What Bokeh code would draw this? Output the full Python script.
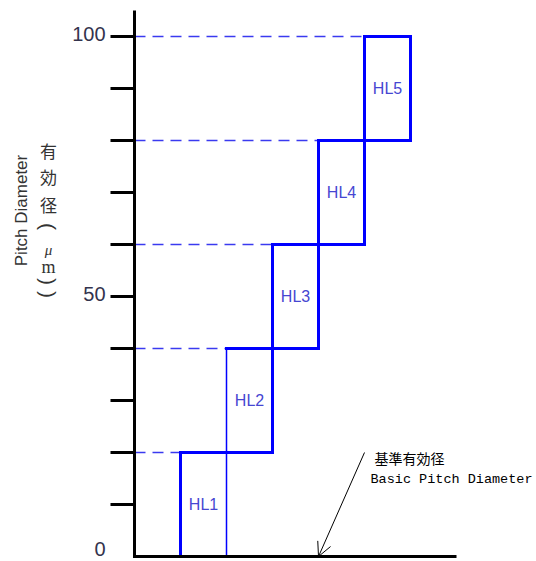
import math
from bokeh.plotting import figure
from bokeh.models import Range1d, Label, Arrow, OpenHead, ColumnDataSource
from bokeh.core.properties import value
from bokeh.embed import file_html
from bokeh.resources import INLINE

# ---- data ----
box_names = ["HL1", "HL2", "HL3", "HL4", "HL5"]
box_left = [1, 2, 3, 4, 5]
box_right = [2, 3, 4, 5, 6]
box_lower = [0, 20, 40, 60, 80]
box_upper = [20, 40, 60, 80, 100]
y_label_ticks = [0, 50, 100]
y_label_text = ["0", "50", "100"]
y_tick_marks = [10, 20, 30, 40, 50, 60, 70, 80, 90, 100]
axis_top = 105
x_axis_end = 7
arrow_from = (5, 20)
arrow_to = (4, 0)
thin_edge_x = 2

# ---- layout ----
W, H = 536, 561
X_RANGE = (-134 / 46.0, (W - 134) / 46.0)
Y_RANGE = (-(H - 556) / 5.2, 556 / 5.2)
XPX = (X_RANGE[1] - X_RANGE[0]) / W
YPX = (Y_RANGE[1] - Y_RANGE[0]) / H

def px_x(dx):
    return dx * XPX

def px_y(dy):
    return dy * YPX

BLUE = "#0000ff"

p = figure(width=W, height=H, x_range=Range1d(*X_RANGE), y_range=Range1d(*Y_RANGE),
           output_backend="svg", toolbar_location=None,
           x_axis_type=None, y_axis_type=None,
           min_border_left=0, min_border_right=0, min_border_top=0, min_border_bottom=0)
p.outline_line_color = None
p.background_fill_color = "white"
p.border_fill_color = "white"

# ---- dashed guide lines ----
p.segment(x0=[0] * len(box_upper), y0=box_upper, x1=box_left, y1=box_upper,
          line_color="#3a3af0", line_width=1.5, line_dash="11 7")

# ---- boxes as edges ----
x0s, y0s, x1s, y1s, ws = [], [], [], [], []
for l, r, lo, up in zip(box_left, box_right, box_lower, box_upper):
    for (a, b, c, d) in [(l, lo, r, lo), (l, up, r, up), (l, lo, l, up), (r, lo, r, up)]:
        x0s.append(a); y0s.append(b); x1s.append(c); y1s.append(d)
        ws.append(1.5 if (a == c == thin_edge_x) else 3)
p.segment(x0=x0s, y0=y0s, x1=x1s, y1=y1s, line_color=BLUE, line_width=ws, line_cap="square")

# ---- axes ----
p.line(x=[0, 0, x_axis_end], y=[axis_top, 0, 0], line_color="black", line_width=3,
       line_join="miter")
p.segment(x0=[px_x(-24)] * len(y_tick_marks), y0=y_tick_marks,
          x1=[0] * len(y_tick_marks), y1=y_tick_marks, line_color="black", line_width=3)
label_src = ColumnDataSource(dict(
    x=[px_x(-29)] * len(y_label_ticks), y=y_label_ticks, t=y_label_text,
    dy=[-8 if v == 0 else -3 for v in y_label_ticks]))
p.text(x="x", y="y", text="t", source=label_src, y_offset="dy",
       text_align="right", text_baseline="middle",
       text_font=value("Liberation Sans"), text_font_size="20px", text_color="#33334d")

# ---- box labels ----
src = ColumnDataSource(dict(x=[(l + r) / 2 for l, r in zip(box_left, box_right)],
                            y=[(lo + up) / 2 for lo, up in zip(box_lower, box_upper)],
                            t=box_names))
p.text(x="x", y="y", text="t", source=src, text_align="center", text_baseline="middle",
       text_font=value("Liberation Sans"), text_font_size="16px", text_color="#4646d2")

# ---- annotation arrow ----
p.add_layout(Arrow(x_start=arrow_from[0], y_start=arrow_from[1],
                   x_end=arrow_to[0], y_end=arrow_to[1],
                   line_width=1, line_color="black",
                   end=OpenHead(size=14, line_width=1, line_color="black")))

p.add_layout(Label(x=arrow_from[0] + px_x(10), y=arrow_from[1] - px_y(5), text="基準有効径",
                   text_font="Noto Sans CJK JP", text_font_size="14px",
                   text_align="left", text_baseline="middle", text_color="black"))
p.add_layout(Label(x=arrow_from[0] + px_x(6), y=arrow_from[1] - px_y(27), text="Basic Pitch Diameter",
                   text_font="Liberation Mono", text_font_size="13.5px",
                   text_align="left", text_baseline="middle", text_color="black"))

# ---- y axis titles ----
p.add_layout(Label(x=px_x(-113), y=px_y(346), text="Pitch Diameter", angle=math.pi / 2,
                   text_font="Liberation Sans", text_font_size="17px",
                   text_align="center", text_baseline="middle", text_color="#333333"))

# vertical column: (char, px above baseline, font, size, style, angle)
vert_chars = [("有", 406, "Noto Sans CJK JP", "17px", "normal", 0),
              ("効", 380, "Noto Sans CJK JP", "17px", "normal", 0),
              ("径", 352, "Noto Sans CJK JP", "17px", "normal", 0),
              ("(", 330, "Liberation Sans", "21px", "normal", -math.pi / 2),
              ("μ", 307, "Liberation Serif", "15px", "italic", 0),
              ("m", 290, "Liberation Serif", "18px", "normal", 0),
              (")", 275, "Liberation Sans", "21px", "normal", -math.pi / 2),
              (")", 262, "Liberation Sans", "21px", "normal", -math.pi / 2)]
for ch, dy, font, size, style, ang in vert_chars:
    p.add_layout(Label(x=px_x(-86), y=px_y(dy), text=ch, text_font=font, text_font_size=size,
                       text_font_style=style, angle=ang, text_align="center",
                       text_baseline="middle", text_color="#333333"))

open("out.html", "w").write(file_html(p, INLINE))
